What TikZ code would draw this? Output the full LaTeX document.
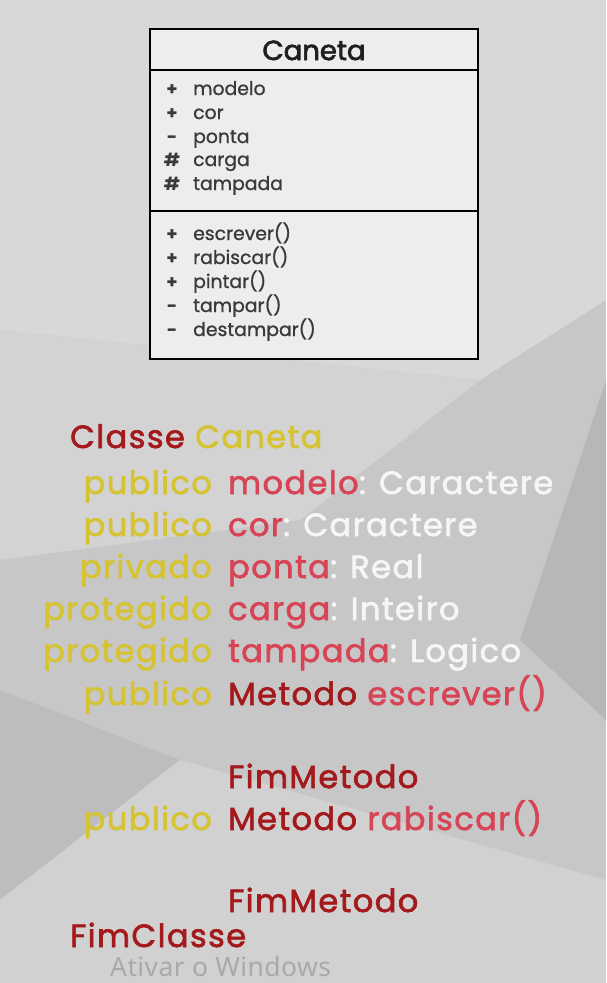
\documentclass[tikz,border=0pt]{standalone}
\usepackage{fontspec}
\setmainfont{Poppins}
\newfontfamily\winfont{Noto Sans}
\definecolor{bgbase}{HTML}{C7C7C7}
\definecolor{bglight}{HTML}{D8D8D8}
\definecolor{bgdark}{HTML}{B7B7B7}
\definecolor{umlbg}{HTML}{EDEDED}
\definecolor{umltext}{HTML}{3A3A3A}
\definecolor{kwyellow}{HTML}{D6C332}
\definecolor{darkred}{HTML}{A3191C}
\definecolor{pinkred}{HTML}{D74456}
\definecolor{typewhite}{HTML}{F6F6F6}
\definecolor{wingray}{HTML}{A9A9A9}
\tikzset{
  umlrow/.style={anchor=base west, inner sep=0pt, text=umltext, font=\fontsize{18.8}{18.8}\selectfont\addfontfeatures{FakeBold=1}},
  umlsym/.style={anchor=base, inner sep=0pt, text=umltext, font=\bfseries\fontsize{18}{18}\selectfont},
  code/.style={inner sep=0pt, font=\fontsize{32}{32}\selectfont\addfontfeatures{LetterSpace=4.5,FakeBold=2}},
  kw/.style={code, anchor=base east, text=kwyellow},
  nm/.style={code, anchor=base west, text=pinkred},
  dr/.style={code, anchor=base west, text=darkred},
  ty/.style={code, anchor=base west, text=typewhite},
}
\begin{document}
\begin{tikzpicture}[x=1pt,y=-1pt]
\useasboundingbox (0,0) rectangle (606,983);
% background
\fill[bgbase] (0,0) rectangle (606,983);
\fill[bglight] (0,0) -- (606,0) -- (606,300) -- (480,380) -- (0,330) -- cycle;
\fill[bglight!70!bgbase] (0,330) -- (480,380) -- (300,520) -- (0,560) -- cycle;
\fill[bgdark] (606,380) -- (606,720) -- (520,640) -- cycle;
\fill[bgdark!60!bgbase] (0,690) -- (180,760) -- (0,900) -- cycle;
\fill[bglight!60!bgbase] (180,760) -- (606,880) -- (606,983) -- (0,983) -- (0,900) -- cycle;
% UML class box
\fill[umlbg] (150,29) rectangle (478,359);
\draw[line width=2.5pt, black] (150,29) rectangle (478,359);
\draw[line width=2.5pt, black] (150,70) -- (478,70);
\draw[line width=2.5pt, black] (150,211) -- (478,211);
\node[anchor=base, inner sep=0pt, font=\fontsize{27.5}{27.5}\selectfont\addfontfeatures{FakeBold=2.5}, text=black!88] (title) at (314,60) {Caneta};
% attributes
\node[umlsym] (s1) at (172,95) {+};
\node[umlrow] (a1) at (193,95) {modelo};
\node[umlsym] (s2) at (172,119) {+};
\node[umlrow] (a2) at (193,119) {cor};
\node[umlsym] (s3) at (172,143) {-};
\node[umlrow] (a3) at (193,143) {ponta};
\node[umlsym] (s4) at (172,166) {\#};
\node[umlrow] (a4) at (193,166) {carga};
\node[umlsym] (s5) at (172,190) {\#};
\node[umlrow] (a5) at (193,190) {tampada};
% methods
\node[umlsym] (m1s) at (172,240) {+};
\node[umlrow] (m1) at (193,240) {escrever()};
\node[umlsym] (m2s) at (172,264) {+};
\node[umlrow] (m2) at (193,264) {rabiscar()};
\node[umlsym] (m3s) at (172,288) {+};
\node[umlrow] (m3) at (193,288) {pintar()};
\node[umlsym] (m4s) at (172,312) {-};
\node[umlrow] (m4) at (193,312) {tampar()};
\node[umlsym] (m5s) at (172,336) {-};
\node[umlrow] (m5) at (193,336) {destampar()};
% pseudo-code
\node[dr] (cls) at (70,448) {Classe};
\node[code, anchor=base west, text=kwyellow] (clsname) at (cls.base east) {\ Caneta};
\node[kw] (k1) at (212,494) {publico};
\node[nm] (n1) at (228,494) {modelo};
\node[ty] (t1) at (n1.base east) {: Caractere};
\node[kw] (k2) at (212,536) {publico};
\node[nm] (n2) at (228,536) {cor};
\node[ty] (t2) at (n2.base east) {: Caractere};
\node[kw] (k3) at (212,578) {privado};
\node[nm] (n3) at (228,578) {ponta};
\node[ty] (t3) at (n3.base east) {: Real};
\node[kw] (k4) at (212,620) {protegido};
\node[nm] (n4) at (228,620) {carga};
\node[ty] (t4) at (n4.base east) {: Inteiro};
\node[kw] (k5) at (212,662) {protegido};
\node[nm] (n5) at (228,662) {tampada};
\node[ty] (t5) at (n5.base east) {: Logico};
\node[kw] (k6) at (212,705) {publico};
\node[dr] (mt1) at (228,705) {Metodo};
\node[nm] (e1) at (mt1.base east) {\ escrever()};
\node[dr] (f1) at (228,788) {FimMetodo};
\node[kw] (k7) at (212,830) {publico};
\node[dr] (mt2) at (228,830) {Metodo};
\node[nm] (e2) at (mt2.base east) {\ rabiscar()};
\node[dr] (f2) at (228,912) {FimMetodo};
\node[dr] (fc) at (70,947) {FimClasse};
\node[anchor=base west, inner sep=0pt, text=wingray, font=\winfont\fontsize{26.5}{26.5}\selectfont\addfontfeatures{LetterSpace=1.5}] (win) at (110,976) {Ativar o Windows};
\end{tikzpicture}
\end{document}
